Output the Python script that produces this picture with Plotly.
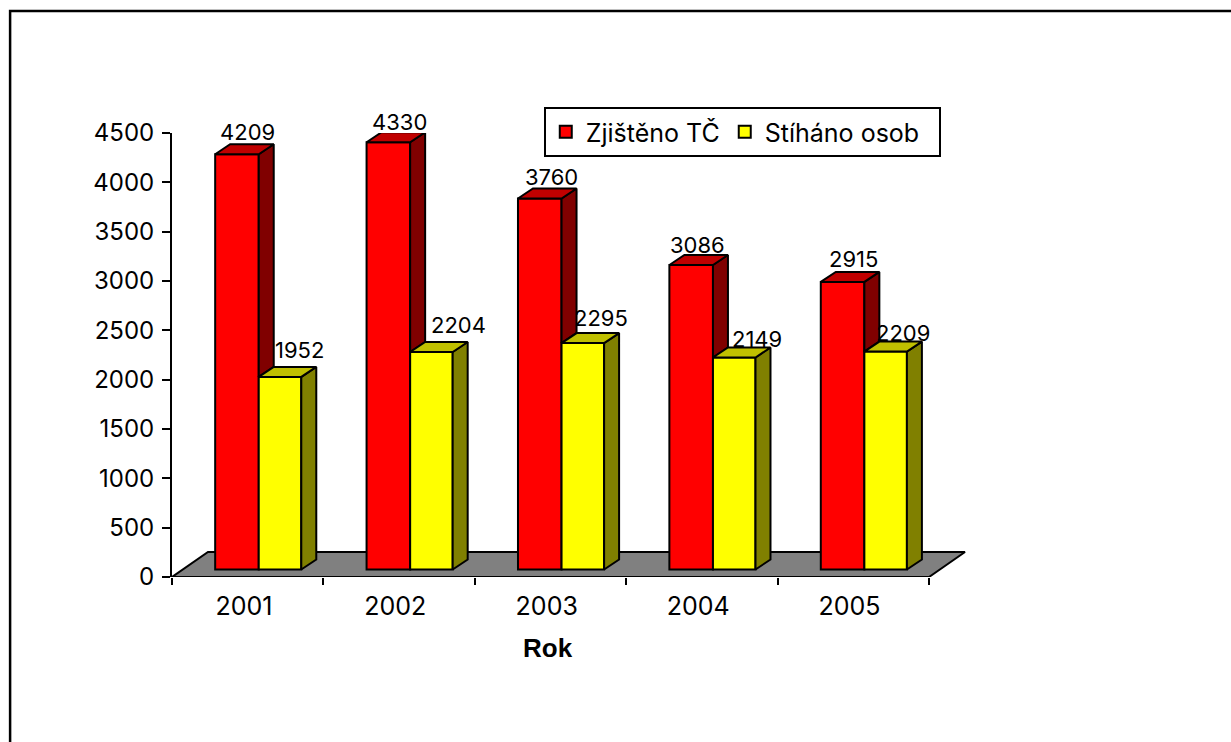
import plotly.graph_objects as go

# ---- data ----
YEARS = ["2001", "2002", "2003", "2004", "2005"]
ZJISTENO = [4209, 4330, 3760, 3086, 2915]
STIHANO = [1952, 2204, 2295, 2149, 2209]
Y_TICKS = [0, 500, 1000, 1500, 2000, 2500, 3000, 3500, 4000, 4500]

# ---- style / layout constants ----
W, H = 1231, 742
L, R, T, B = 171.5, 970.0, 133.0, 577.0
CAT_R = 929.0
FONT = "Inter"
PX_X = (CAT_R - L) / 5.0
PX_Y = (B - T) / 4500.0
BASE = 7.5 / PX_Y
DX, DY = 15 / PX_X, 10 / PX_Y
FLOOR_DX, FLOOR_DY = 36 / PX_X, 25 / PX_Y
RED_L, RED_W = -0.2149, 0.2878
YEL_W = 0.281
LW = 2
# label offsets in px (hand placed in the original)
RED_OFF = [(11, 22), (11, 20), (12, 22), (6, 20), (11, 23)]
YEL_OFF = [(19, 27), (27, 27), (18, 25), (23, 18), (17, 19)]

idx = list(range(len(YEARS)))


def poly(points_list):
    xs, ys = [], []
    for pts in points_list:
        for p in pts:
            xs.append(p[0])
            ys.append(p[1])
        xs.append(pts[0][0])
        ys.append(pts[0][1])
        xs.append(None)
        ys.append(None)
    return xs, ys


def face(points_list, color, axes=True):
    xs, ys = poly(points_list)
    return go.Scatter(x=xs, y=ys, mode="lines", fill="toself", fillcolor=color,
                      line=dict(color="black", width=LW, simplify=False),
                      hoverinfo="skip", showlegend=False, cliponaxis=False,
                      xaxis="x2" if axes else "x", yaxis="y2" if axes else "y")


red_x = [i + RED_L for i in idx]
yel_x = [x + RED_W for x in red_x]
red_top = [BASE + v for v in ZJISTENO]
yel_top = [BASE + v for v in STIHANO]

fig = go.Figure()

# floor (bottom subplot, beneath the bars); its front edge is the category axis line
fig.add_trace(face([[(-0.5, 0), (-0.5 + FLOOR_DX, FLOOR_DY),
                     (len(idx) - 0.5 + FLOOR_DX, FLOOR_DY), (len(idx) - 0.5, 0)]],
                   "#808080", axes=False))

# front faces
fig.add_trace(go.Bar(x=[x + RED_W / 2 for x in red_x], y=ZJISTENO, base=BASE, width=RED_W,
                     name="Zjištěno TČ", marker=dict(color="#FF0000", line=dict(color="black", width=LW)),
                     xaxis="x2", yaxis="y2"))
fig.add_trace(go.Bar(x=[x + YEL_W / 2 for x in yel_x], y=STIHANO, base=BASE, width=YEL_W,
                     name="Stíháno osob\u00a0\u00a0", marker=dict(color="#FFFF00", line=dict(color="black", width=LW)),
                     xaxis="x2", yaxis="y2"))

# 3D faces
fig.add_trace(face([[(x + RED_W, t), (x + RED_W + DX, t + DY), (x + RED_W + DX, yt + DY), (x + RED_W, yt)]
                    for x, t, yt in zip(red_x, red_top, yel_top)], "#800000"))
fig.add_trace(face([[(x, t), (x + DX, t + DY), (x + RED_W + DX, t + DY), (x + RED_W, t)]
                    for x, t in zip(red_x, red_top)], "#C00000"))
fig.add_trace(face([[(x + YEL_W, t), (x + YEL_W + DX, t + DY), (x + YEL_W + DX, BASE + DY), (x + YEL_W, BASE)]
                    for x, t in zip(yel_x, yel_top)], "#808000"))
fig.add_trace(face([[(x, t), (x + DX, t + DY), (x + YEL_W + DX, t + DY), (x + YEL_W, t)]
                    for x, t in zip(yel_x, yel_top)], "#C0C000"))

# value labels
annotations = []
for x, t, v, off in zip(red_x, red_top, ZJISTENO, RED_OFF):
    annotations.append(dict(x=x + RED_W / 2, y=t, xref="x2", yref="y2", text=str(v), showarrow=False,
                            xshift=off[0], yshift=off[1], font=dict(family=FONT, size=22, color="black")))
for x, t, v, off in zip(yel_x, yel_top, STIHANO, YEL_OFF):
    annotations.append(dict(x=x + YEL_W / 2, y=t, xref="x2", yref="y2", text=str(v), showarrow=False,
                            xshift=off[0], yshift=off[1], font=dict(family=FONT, size=22, color="black")))
# axis title
annotations.append(dict(x=(548 - L) / PX_X - 0.5, y=(B - 648) / (B - T), xref="x", yref="paper", text="<b>Rok</b>",
                        yanchor="middle", xanchor="center",
                        showarrow=False, font=dict(family="Liberation Sans", size=26, color="black")))

x_range = [-0.5, (R - L) / PX_X - 0.5]
fig.update_layout(
    width=W, height=H, autosize=False,
    margin=dict(l=L, r=W - R, t=T, b=H - B, pad=0),
    paper_bgcolor="white", plot_bgcolor="white",
    font=dict(family=FONT, color="black", size=24),
    barmode="overlay",
    showlegend=True,
    legend=dict(orientation="h", x=(543.5 - L) / (R - L), y=(B - 107) / (B - T), xanchor="left", yanchor="top",
                bgcolor="white", bordercolor="black", borderwidth=2,
                font=dict(family=FONT, size=25), itemsizing="trace", traceorder="normal"),
    xaxis=dict(range=x_range, tickmode="array", tickvals=[i - 0.025 for i in idx], ticktext=YEARS,
               ticks="", showgrid=False, zeroline=False, showline=False,
               tickfont=dict(family=FONT, size=25), ticklabelstandoff=12,
               minor=dict(tickmode="array", tickvals=[i - 0.5 for i in range(len(idx) + 1)], ticks="outside",
                          ticklen=7, tickwidth=LW, tickcolor="black", showgrid=False)),
    yaxis=dict(range=[0, 4500], tickmode="array", tickvals=Y_TICKS, ticks="outside", ticklen=8, tickwidth=LW,
               tickcolor="black", showgrid=False, zeroline=False, showline=True, linecolor="black", linewidth=LW,
               tickfont=dict(family=FONT, size=24), ticklabelstandoff=3),
    xaxis2=dict(range=x_range, overlaying="x", visible=False),
    yaxis2=dict(range=[0, 4500], overlaying="y", visible=False),
    annotations=annotations,
    shapes=[dict(type="path", xref="paper", yref="paper",
                 path=f"M {(9.5 - L) / (R - L)},{(B - H - 5) / (B - T)} L {(9.5 - L) / (R - L)},{(B - 11) / (B - T)} "
                      f"L {(W + 5 - L) / (R - L)},{(B - 11) / (B - T)}",
                 line=dict(color="black", width=2.5))],
)

fig.write_html("out.html", config=dict(displayModeBar=False),
               post_script="document.body.style.margin='0';document.body.style.overflow='hidden';")
